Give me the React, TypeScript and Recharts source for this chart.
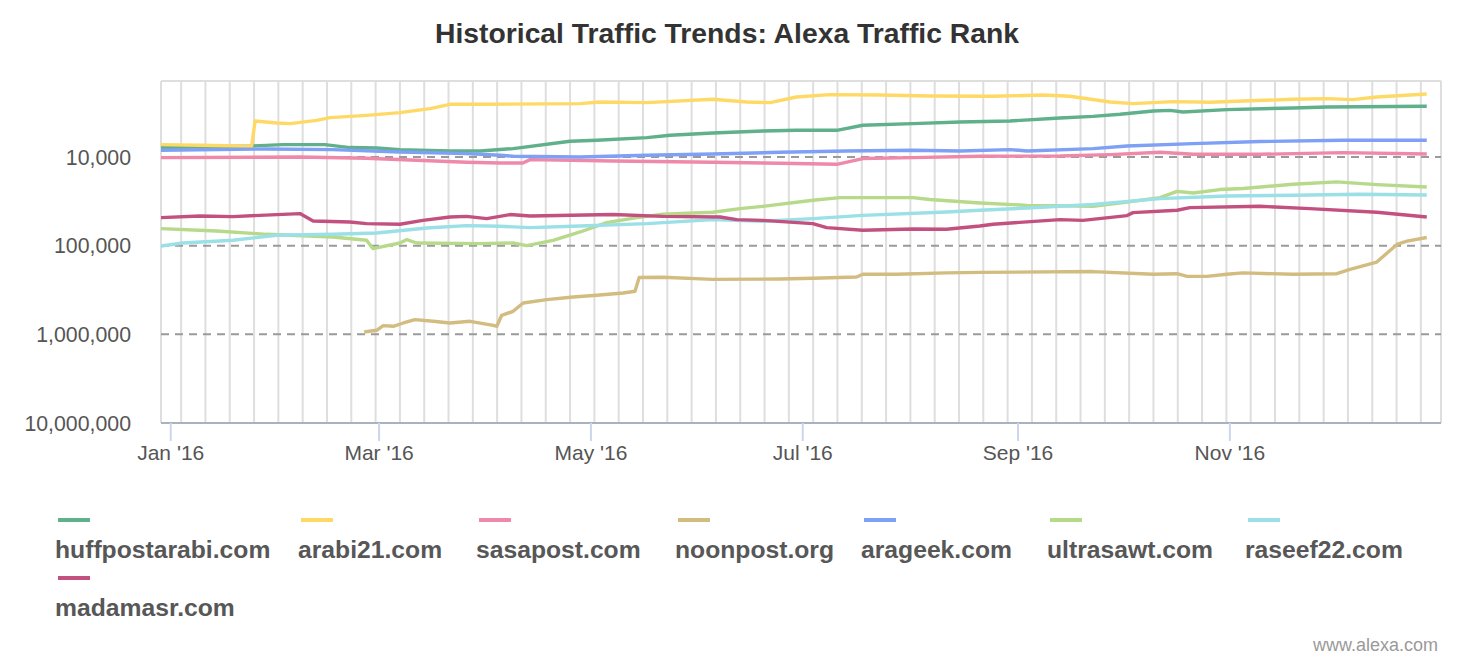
import { LineChart, Line, XAxis, YAxis, ReferenceLine } from 'recharts';

// days counted from Jan 1 2016, values are Alexa traffic rank
const MONTH_TICKS = [0, 60, 121, 182, 244, 305];
const MONTH_LABELS = ["Jan '16", "Mar '16", "May '16", "Jul '16", "Sep '16", "Nov '16"];
const RANK_TICKS = [10000, 100000, 1000000, 10000000];
const DASHED_RANKS = [10000, 100000, 1000000];
const X_DOMAIN: [number, number] = [-2.8, 365.8];
const Y_DOMAIN: [number, number] = [1390, 10000000];
// Monday grid lines (Jan 4 2016 = day 3)
const WEEK_LINES = Array.from({ length: 52 }, (_, i) => 3 + 7 * i);

const HUFFPOSTARABI: [number, number][] = [
  [-2.8, 7830], [22.8, 7520], [32.3, 7250], [44.4, 7250], [51.6, 7830], [59.3, 7910],
  [66, 8250], [80.4, 8560], [89.1, 8560], [98.6, 8040], [115, 6650], [122.7, 6480],
  [137.1, 6040], [143.8, 5690], [156.1, 5360], [170.5, 5090], [180.2, 5000], [191.8, 5000],
  [199.3, 4390], [213.7, 4200], [227.3, 4030], [241.7, 3930], [256.1, 3630], [265.6, 3480],
  [273.4, 3300], [282.9, 3030], [287.8, 2980], [291.5, 3110], [304.1, 2920], [323.2, 2800],
  [332.9, 2730], [361.7, 2680],
];

const ARABI21: [number, number][] = [
  [-2.8, 7250], [8.4, 7380], [23.3, 7580], [24.3, 3930], [30.5, 4140], [34.4, 4200],
  [42, 3860], [45.9, 3600], [56.4, 3390], [66, 3160], [74.7, 2850], [80.4, 2545],
  [89.1, 2545], [117.9, 2500], [123.6, 2400], [137.1, 2436], [156.1, 2236], [165.9, 2398],
  [172.6, 2436], [180.2, 2106], [189.8, 1979], [204.2, 1999], [218.6, 2052], [236.8, 2068],
  [251.2, 1999], [258.9, 2068], [270.5, 2398], [277.1, 2499], [288.6, 2373], [299.3, 2417],
  [308.8, 2336], [323.2, 2236], [332.9, 2196], [340.4, 2253], [347.3, 2106], [361.7, 1948],
];

const SASAPOST: [number, number][] = [
  [-2.8, 10160], [37.2, 10000], [56.4, 10340], [70.8, 10890], [85.2, 11480], [94.8, 11690],
  [101.4, 11690], [103.5, 10700], [127.4, 11090], [156.1, 11480], [175.5, 11780], [191.8, 12090],
  [199.3, 10420], [213.7, 10160], [233, 9820], [256.1, 9740], [270.5, 9400], [284.9, 8850],
  [294.4, 9320], [313.7, 9320], [337.6, 8920], [361.7, 9250],
];

const NOONPOST: [number, number][] = [
  [55.7, 941000], [59.3, 900000], [61.2, 797000], [64.1, 812000], [67, 745000], [70.3, 682000],
  [75.6, 713000], [80.4, 745000], [86.2, 713000], [92.9, 791000], [93.9, 812000], [95.3, 610000],
  [98.6, 550000], [101.5, 443000], [108.3, 406000], [115.9, 379000], [122.7, 363000], [130.3, 342000],
  [133.7, 327000], [134.9, 229000], [141.8, 227000], [156.1, 240000], [175.5, 238000], [184.9, 233000],
  [197.5, 226000], [199.3, 210000], [209, 210000], [223.4, 203000], [233, 200000], [265.6, 196000],
  [282.9, 210000], [289.8, 207000], [292.7, 222000], [298.4, 222000], [304.1, 210000], [308.8, 203000],
  [323.2, 210000], [335.8, 207000], [339.6, 185000], [347.3, 153000], [353.1, 97000], [356, 89000],
  [361.7, 81000],
];

const ARAGEEK: [number, number][] = [
  [-2.8, 8400], [27.6, 8120], [46.7, 8250], [66, 8780], [85.2, 9160], [94.8, 9570],
  [98.6, 9820], [117.9, 10000], [137.1, 9570], [156.1, 9250], [175.5, 8850], [194.6, 8560],
  [213.7, 8400], [227.3, 8560], [241.7, 8250], [246.6, 8560], [265.6, 8040], [275.4, 7520],
  [294.4, 7060], [313.7, 6700], [337.6, 6480], [361.7, 6480],
];

const ULTRASAWT: [number, number][] = [
  [-2.8, 64200], [13.2, 68300], [27.6, 74500], [46.7, 79800], [56.4, 87000], [58.2, 107900],
  [66, 93300], [68, 85400], [70.8, 93300], [89.1, 94800], [98.6, 93300], [102.5, 99800],
  [110.1, 87000], [117.9, 70100], [125.5, 54900], [134.2, 48300], [141.8, 44300], [156.1, 42000],
  [163.9, 38200], [170.5, 36000], [184.9, 30800], [192.7, 28700], [213.7, 28700], [218.6, 30200],
  [233, 33000], [246.6, 35100], [265.6, 36000], [275.4, 32200], [284.9, 28700], [289.8, 24400],
  [294.4, 25500], [302.1, 23300], [308.8, 22700], [323.2, 20300], [335.8, 19100], [347.3, 20500],
  [361.7, 21800],
];

const RASEEF22: [number, number][] = [
  [-2.8, 100900], [3.5, 93300], [17.9, 87000], [30.5, 76400], [46.7, 74500], [59.3, 72000],
  [73.7, 63200], [85.2, 59400], [94.8, 60500], [103.5, 62600], [117.9, 60000], [137.1, 56400],
  [156.1, 50800], [170.5, 53100], [184.9, 49500], [199.3, 45500], [223.4, 41700], [233, 39900],
  [246.6, 37600], [265.6, 34400], [284.9, 29500], [304.1, 27500], [323.2, 27000], [342.4, 26300],
  [361.7, 26800],
];

const MADAMASR: [number, number][] = [
  [-2.8, 48300], [8.4, 46300], [17.9, 47000], [37.2, 43500], [41, 52700], [51.6, 54100],
  [56.4, 56400], [66, 57400], [72.6, 51800], [80.4, 47500], [85.2, 46700], [91, 49500],
  [97.7, 44600], [103.5, 46300], [127.4, 44600], [141.8, 46700], [158.2, 47500], [163, 50800],
  [170.5, 51800], [184.9, 56400], [188.9, 62600], [199.3, 67100], [213.7, 64900], [223.4, 65400],
  [233, 60000], [236.8, 57400], [256.1, 50800], [262.7, 51800], [275.4, 45800], [277.1, 42400],
  [289.8, 39900], [293.5, 37200], [313.7, 36000], [328, 38200], [347.3, 42000], [361.7, 47500],
];

const SERIES = [
  { name: 'huffpostarabi.com', color: '#5fb08b', data: HUFFPOSTARABI },
  { name: 'arabi21.com', color: '#ffd966', data: ARABI21 },
  { name: 'sasapost.com', color: '#ef89a9', data: SASAPOST },
  { name: 'noonpost.org', color: '#d2bc80', data: NOONPOST },
  { name: 'arageek.com', color: '#7ea0f5', data: ARAGEEK },
  { name: 'ultrasawt.com', color: '#b6d98a', data: ULTRASAWT },
  { name: 'raseef22.com', color: '#9ae0e6', data: RASEEF22 },
  { name: 'madamasr.com', color: '#c2517f', data: MADAMASR },
];

// legend layout (Highcharts-like, symbol above label)
const LEGEND_SLOTS = [
  { left: 55, row: 0 }, { left: 298, row: 0 }, { left: 476, row: 0 }, { left: 675, row: 0 },
  { left: 861, row: 0 }, { left: 1047, row: 0 }, { left: 1245, row: 0 }, { left: 55, row: 1 },
];

const FONT = "'Liberation Sans', Arial, sans-serif";

export default function App() {
  return (
    <div
      style={{
        position: 'fixed',
        left: 0,
        top: 0,
        width: 1460,
        height: 660,
        background: '#ffffff',
        fontFamily: FONT,
        overflow: 'hidden',
      }}
    >
      <div
        style={{
          position: 'absolute',
          left: 0,
          top: 17,
          width: 1454,
          textAlign: 'center',
          fontSize: 28.3,
          lineHeight: '32px',
          fontWeight: 'bold',
          color: '#333333',
        }}
      >
        Historical Traffic Trends: Alexa Traffic Rank
      </div>

      <div style={{ position: 'absolute', left: 0, top: 0 }}>
        <LineChart width={1460} height={480} margin={{ top: 81, right: 19, left: 0, bottom: 0 }}>
          <XAxis
            type="number"
            dataKey="day"
            domain={X_DOMAIN}
            allowDataOverflow
            ticks={MONTH_TICKS}
            tickFormatter={(v: number) => MONTH_LABELS[MONTH_TICKS.indexOf(v)] ?? ''}
            height={57}
            tickSize={18}
            tickMargin={4}
            tick={{ fontSize: 21, fill: '#555555' }}
            tickLine={{ stroke: '#ccd6eb', strokeWidth: 2 }}
            axisLine={{ stroke: '#aab2c0', strokeWidth: 2 }}
          />
          <YAxis
            type="number"
            scale="log"
            reversed
            domain={Y_DOMAIN}
            allowDataOverflow
            ticks={RANK_TICKS}
            tickFormatter={(v: number) => v.toLocaleString('en-US')}
            width={161}
            tickSize={0}
            tickMargin={30}
            axisLine={false}
            tickLine={false}
            tick={{ fontSize: 21.3, fill: '#555555' }}
          />

          {/* weekly vertical grid + plot border */}
          {WEEK_LINES.map((d) => (
            <ReferenceLine key={`w${d}`} x={d} stroke="#dedede" strokeWidth={2} />
          ))}
          <ReferenceLine x={X_DOMAIN[0]} stroke="#dedede" strokeWidth={2} />
          <ReferenceLine x={X_DOMAIN[1]} stroke="#dedede" strokeWidth={2} />
          <ReferenceLine y={Y_DOMAIN[0]} stroke="#dedede" strokeWidth={2} />

          {/* dashed rank grid */}
          {DASHED_RANKS.map((r) => (
            <ReferenceLine key={`r${r}`} y={r} stroke="#9a9a9a" strokeWidth={2} strokeDasharray="8 6" />
          ))}

          {SERIES.map((s) => (
            <Line
              key={s.name}
              data={s.data.map(([day, rank]) => ({ day, rank }))}
              dataKey="rank"
              name={s.name}
              type="linear"
              stroke={s.color}
              strokeWidth={3.4}
              strokeLinejoin="round"
              dot={false}
              activeDot={false}
              isAnimationActive={false}
            />
          ))}
        </LineChart>
      </div>

      {/* legend */}
      {SERIES.map((s, i) => {
        const slot = LEGEND_SLOTS[i];
        const rowTop = 518 + slot.row * 58;
        return (
          <div key={s.name}>
            <div
              style={{
                position: 'absolute',
                left: slot.left + 3,
                top: rowTop,
                width: 32,
                height: 4,
                background: s.color,
              }}
            />
            <div
              style={{
                position: 'absolute',
                left: slot.left,
                top: rowTop + 20,
                fontSize: 24.7,
                lineHeight: '24.5px',
                fontWeight: 'bold',
                color: '#575757',
                whiteSpace: 'nowrap',
              }}
            >
              {s.name}
            </div>
          </div>
        );
      })}

      <div
        style={{
          position: 'absolute',
          right: 22,
          top: 636,
          fontSize: 18,
          lineHeight: '18px',
          color: '#9a9a9a',
        }}
      >
        www.alexa.com
      </div>
    </div>
  );
}
